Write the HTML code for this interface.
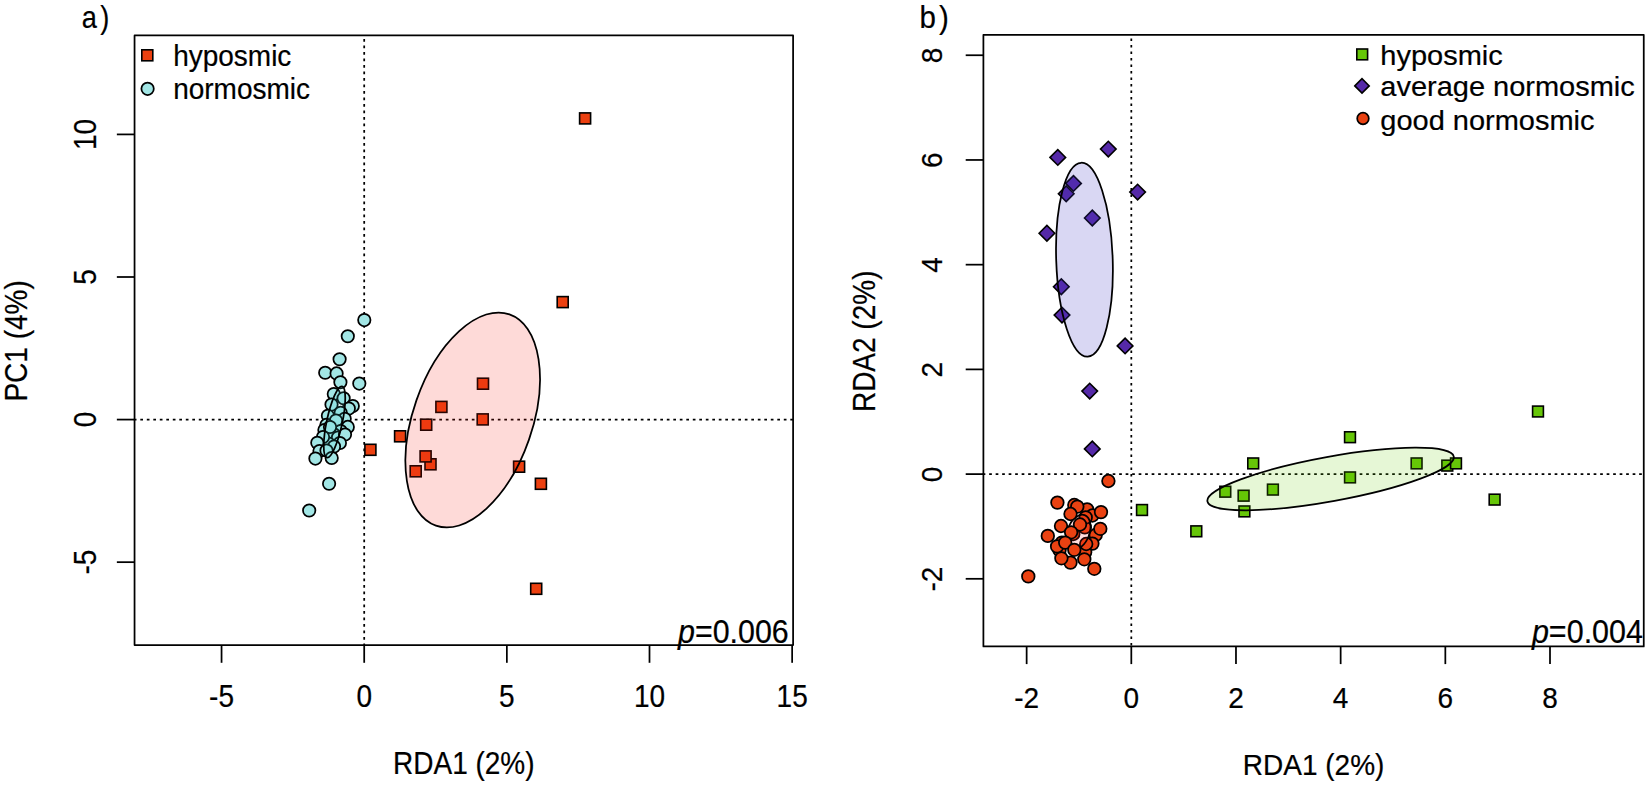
<!DOCTYPE html>
<html lang="en"><head><meta charset="utf-8"><title>RDA ordination plots</title>
<style>
html,body{margin:0;padding:0;background:#fff;}
body{width:1650px;height:787px;overflow:hidden;}
svg{display:block;}
svg text{font-family:"Liberation Sans", Arial, Helvetica, sans-serif;fill:#000;stroke:#000;stroke-width:0.2px;}
</style></head><body>
<svg width="1650" height="787" viewBox="0 0 1650 787">
<rect x="0" y="0" width="1650" height="787" fill="#fff"/>
<g stroke="#000" stroke-width="1.75" fill="none" stroke-linecap="butt" stroke-linejoin="round">
<rect x="134.55" y="35.4" width="658.55" height="609.70" fill="none"/>
<line x1="221.55" y1="645.10" x2="221.55" y2="662.80"/>
<line x1="364.20" y1="645.10" x2="364.20" y2="662.80"/>
<line x1="506.85" y1="645.10" x2="506.85" y2="662.80"/>
<line x1="649.50" y1="645.10" x2="649.50" y2="662.80"/>
<line x1="792.15" y1="645.10" x2="792.15" y2="662.80"/>
<line x1="116.85" y1="562.16" x2="134.55" y2="562.16"/>
<line x1="116.85" y1="419.58" x2="134.55" y2="419.58"/>
<line x1="116.85" y1="277.00" x2="134.55" y2="277.00"/>
<line x1="116.85" y1="134.41" x2="134.55" y2="134.41"/>
<line x1="133.80" y1="419.58" x2="793.10" y2="419.58" stroke-dasharray="2.7 3.8" stroke-dashoffset="0"/>
<line x1="364.20" y1="35.40" x2="364.20" y2="645.10" stroke-dasharray="2.7 3.8" stroke-dashoffset="2.95"/>
</g>
<g stroke="#000">
<circle cx="364.30" cy="320.10" r="6.2" fill="#A2E6E5" stroke-width="1.75"/>
<circle cx="347.80" cy="336.20" r="6.2" fill="#A2E6E5" stroke-width="1.75"/>
<circle cx="339.60" cy="359.30" r="6.2" fill="#A2E6E5" stroke-width="1.75"/>
<circle cx="325.20" cy="372.80" r="6.2" fill="#A2E6E5" stroke-width="1.75"/>
<circle cx="336.60" cy="373.40" r="6.2" fill="#A2E6E5" stroke-width="1.75"/>
<circle cx="340.40" cy="382.30" r="6.2" fill="#A2E6E5" stroke-width="1.75"/>
<circle cx="359.30" cy="383.60" r="6.2" fill="#A2E6E5" stroke-width="1.75"/>
<circle cx="333.80" cy="394.00" r="6.2" fill="#A2E6E5" stroke-width="1.75"/>
<circle cx="343.60" cy="398.20" r="6.2" fill="#A2E6E5" stroke-width="1.75"/>
<circle cx="352.80" cy="406.10" r="6.2" fill="#A2E6E5" stroke-width="1.75"/>
<circle cx="348.80" cy="408.60" r="6.2" fill="#A2E6E5" stroke-width="1.75"/>
<circle cx="331.50" cy="404.60" r="6.2" fill="#A2E6E5" stroke-width="1.75"/>
<circle cx="340.70" cy="412.70" r="6.2" fill="#A2E6E5" stroke-width="1.75"/>
<circle cx="327.90" cy="415.70" r="6.2" fill="#A2E6E5" stroke-width="1.75"/>
<circle cx="344.70" cy="418.80" r="6.2" fill="#A2E6E5" stroke-width="1.75"/>
<circle cx="336.00" cy="420.50" r="6.2" fill="#A2E6E5" stroke-width="1.75"/>
<circle cx="347.80" cy="426.90" r="6.2" fill="#A2E6E5" stroke-width="1.75"/>
<circle cx="340.70" cy="431.00" r="6.2" fill="#A2E6E5" stroke-width="1.75"/>
<circle cx="326.40" cy="424.90" r="6.2" fill="#A2E6E5" stroke-width="1.75"/>
<circle cx="324.40" cy="430.00" r="6.2" fill="#A2E6E5" stroke-width="1.75"/>
<circle cx="333.50" cy="434.00" r="6.2" fill="#A2E6E5" stroke-width="1.75"/>
<circle cx="330.00" cy="427.00" r="6.2" fill="#A2E6E5" stroke-width="1.75"/>
<circle cx="338.00" cy="437.50" r="6.2" fill="#A2E6E5" stroke-width="1.75"/>
<circle cx="345.00" cy="434.50" r="6.2" fill="#A2E6E5" stroke-width="1.75"/>
<circle cx="320.30" cy="442.20" r="6.2" fill="#A2E6E5" stroke-width="1.75"/>
<circle cx="328.50" cy="443.60" r="6.2" fill="#A2E6E5" stroke-width="1.75"/>
<circle cx="339.90" cy="443.00" r="6.2" fill="#A2E6E5" stroke-width="1.75"/>
<circle cx="334.00" cy="446.50" r="6.2" fill="#A2E6E5" stroke-width="1.75"/>
<circle cx="323.00" cy="437.00" r="6.2" fill="#A2E6E5" stroke-width="1.75"/>
<circle cx="317.30" cy="442.70" r="6.2" fill="#A2E6E5" stroke-width="1.75"/>
<circle cx="319.50" cy="451.00" r="6.2" fill="#A2E6E5" stroke-width="1.75"/>
<circle cx="326.50" cy="450.50" r="6.2" fill="#A2E6E5" stroke-width="1.75"/>
<circle cx="315.40" cy="458.60" r="6.2" fill="#A2E6E5" stroke-width="1.75"/>
<circle cx="331.70" cy="458.00" r="6.2" fill="#A2E6E5" stroke-width="1.75"/>
<circle cx="329.10" cy="483.80" r="6.2" fill="#A2E6E5" stroke-width="1.75"/>
<circle cx="309.20" cy="510.50" r="6.2" fill="#A2E6E5" stroke-width="1.75"/>
<rect x="579.60" y="112.90" width="11.0" height="11.0" fill="#EC4010" stroke-width="1.6"/>
<rect x="557.20" y="296.60" width="11.0" height="11.0" fill="#EC4010" stroke-width="1.6"/>
<rect x="477.50" y="378.20" width="11.0" height="11.0" fill="#EC4010" stroke-width="1.6"/>
<rect x="435.90" y="401.40" width="11.0" height="11.0" fill="#EC4010" stroke-width="1.6"/>
<rect x="477.20" y="413.90" width="11.0" height="11.0" fill="#EC4010" stroke-width="1.6"/>
<rect x="420.70" y="419.20" width="11.0" height="11.0" fill="#EC4010" stroke-width="1.6"/>
<rect x="394.60" y="430.80" width="11.0" height="11.0" fill="#EC4010" stroke-width="1.6"/>
<rect x="364.90" y="444.30" width="11.0" height="11.0" fill="#EC4010" stroke-width="1.6"/>
<rect x="425.00" y="458.80" width="11.0" height="11.0" fill="#EC4010" stroke-width="1.6"/>
<rect x="420.10" y="450.90" width="11.0" height="11.0" fill="#EC4010" stroke-width="1.6"/>
<rect x="410.20" y="465.80" width="11.0" height="11.0" fill="#EC4010" stroke-width="1.6"/>
<rect x="513.60" y="461.20" width="11.0" height="11.0" fill="#EC4010" stroke-width="1.6"/>
<rect x="535.40" y="478.30" width="11.0" height="11.0" fill="#EC4010" stroke-width="1.6"/>
<rect x="530.70" y="583.30" width="11.0" height="11.0" fill="#EC4010" stroke-width="1.6"/>
</g>
<g stroke="#000" stroke-width="1.75">
<ellipse cx="334.5" cy="422" rx="36.5" ry="7.8" transform="rotate(-78 334.5 422)" fill="#40D0D0" fill-opacity="0.15"/>
<ellipse cx="472.7" cy="420" rx="111.9" ry="59.6" transform="rotate(-70.8 472.7 420)" fill="#F81C14" fill-opacity="0.165"/>
</g>
<g stroke="#000">
<rect x="141.80" y="49.80" width="11.0" height="11.0" fill="#EC4010" stroke-width="1.6"/>
<circle cx="147.60" cy="88.80" r="6.2" fill="#A2E6E5" stroke-width="1.75"/>
</g>
<text transform="translate(173.15 66.10) scale(1 1.07)" text-anchor="start" font-size="28">hyposmic</text>
<text transform="translate(173.15 98.50) scale(1 1.07)" text-anchor="start" font-size="28">normosmic</text>
<text transform="translate(81.80 27.75) scale(1 1.135)" text-anchor="start" font-size="27.2">a<tspan dx="3.4">)</tspan></text>
<text transform="translate(221.55 706.60) scale(1 1.09)" text-anchor="middle" font-size="28">-5</text>
<text transform="translate(364.20 706.60) scale(1 1.09)" text-anchor="middle" font-size="28">0</text>
<text transform="translate(506.85 706.60) scale(1 1.09)" text-anchor="middle" font-size="28">5</text>
<text transform="translate(649.50 706.60) scale(1 1.09)" text-anchor="middle" font-size="28">10</text>
<text transform="translate(792.15 706.60) scale(1 1.09)" text-anchor="middle" font-size="28">15</text>
<text transform="translate(95.70 562.16) rotate(-90) scale(1 1.12)" text-anchor="middle" font-size="28">-5</text>
<text transform="translate(95.70 419.58) rotate(-90) scale(1 1.12)" text-anchor="middle" font-size="28">0</text>
<text transform="translate(95.70 277.00) rotate(-90) scale(1 1.12)" text-anchor="middle" font-size="28">5</text>
<text transform="translate(95.70 134.41) rotate(-90) scale(1 1.12)" text-anchor="middle" font-size="28">10</text>
<text transform="translate(463.80 773.80) scale(1 1.12)" text-anchor="middle" font-size="28">RDA1 (2%)</text>
<text transform="translate(26.90 340.90) rotate(-90) scale(1 1.115)" text-anchor="middle" font-size="28">PC1 (4%)</text>
<text transform="translate(788.70 643.00) scale(1 1.075)" text-anchor="end" font-size="30.4"><tspan font-style="italic">p</tspan>=0.006</text>
<g stroke="#000" stroke-width="1.75" fill="none" stroke-linecap="butt" stroke-linejoin="round">
<rect x="983.4" y="34.85" width="660.35" height="611.55" fill="none"/>
<line x1="1026.64" y1="646.40" x2="1026.64" y2="664.10"/>
<line x1="1131.31" y1="646.40" x2="1131.31" y2="664.10"/>
<line x1="1235.98" y1="646.40" x2="1235.98" y2="664.10"/>
<line x1="1340.65" y1="646.40" x2="1340.65" y2="664.10"/>
<line x1="1445.33" y1="646.40" x2="1445.33" y2="664.10"/>
<line x1="1550.00" y1="646.40" x2="1550.00" y2="664.10"/>
<line x1="965.70" y1="578.81" x2="983.40" y2="578.81"/>
<line x1="965.70" y1="474.10" x2="983.40" y2="474.10"/>
<line x1="965.70" y1="369.39" x2="983.40" y2="369.39"/>
<line x1="965.70" y1="264.67" x2="983.40" y2="264.67"/>
<line x1="965.70" y1="159.96" x2="983.40" y2="159.96"/>
<line x1="965.70" y1="55.24" x2="983.40" y2="55.24"/>
<line x1="982.65" y1="474.10" x2="1643.75" y2="474.10" stroke-dasharray="2.7 3.8" stroke-dashoffset="0"/>
<line x1="1131.31" y1="34.85" x2="1131.31" y2="646.40" stroke-dasharray="2.7 3.8" stroke-dashoffset="2.95"/>
</g>
<g stroke="#000">
<circle cx="1108.40" cy="481.00" r="6.3" fill="#EA4212" stroke-width="1.75"/>
<circle cx="1028.30" cy="576.40" r="6.3" fill="#EA4212" stroke-width="1.75"/>
<circle cx="1047.80" cy="535.90" r="6.3" fill="#EA4212" stroke-width="1.75"/>
<circle cx="1074.30" cy="505.00" r="6.3" fill="#EA4212" stroke-width="1.75"/>
<circle cx="1087.10" cy="509.30" r="6.3" fill="#EA4212" stroke-width="1.75"/>
<circle cx="1084.80" cy="527.40" r="6.3" fill="#EA4212" stroke-width="1.75"/>
<circle cx="1073.30" cy="534.00" r="6.3" fill="#EA4212" stroke-width="1.75"/>
<circle cx="1095.70" cy="535.00" r="6.3" fill="#EA4212" stroke-width="1.75"/>
<circle cx="1061.90" cy="542.60" r="6.3" fill="#EA4212" stroke-width="1.75"/>
<circle cx="1092.40" cy="543.60" r="6.3" fill="#EA4212" stroke-width="1.75"/>
<circle cx="1085.20" cy="552.10" r="6.3" fill="#EA4212" stroke-width="1.75"/>
<circle cx="1059.50" cy="550.20" r="6.3" fill="#EA4212" stroke-width="1.75"/>
<circle cx="1057.10" cy="546.40" r="6.3" fill="#EA4212" stroke-width="1.75"/>
<circle cx="1070.50" cy="562.60" r="6.3" fill="#EA4212" stroke-width="1.75"/>
<circle cx="1092.40" cy="515.50" r="6.3" fill="#EA4212" stroke-width="1.75"/>
<circle cx="1086.20" cy="544.00" r="6.3" fill="#EA4212" stroke-width="1.75"/>
<circle cx="1085.70" cy="517.40" r="6.3" fill="#EA4212" stroke-width="1.75"/>
<circle cx="1101.00" cy="512.10" r="6.3" fill="#EA4212" stroke-width="1.75"/>
<circle cx="1100.30" cy="528.80" r="6.3" fill="#EA4212" stroke-width="1.75"/>
<ellipse cx="1078.5" cy="532" rx="11" ry="18" transform="rotate(20 1078.5 532)" fill="#FF2020" fill-opacity="0.15" stroke-width="1.75"/>
<circle cx="1057.40" cy="502.60" r="6.3" fill="#EA4212" stroke-width="1.75"/>
<circle cx="1077.30" cy="506.60" r="6.3" fill="#EA4212" stroke-width="1.75"/>
<circle cx="1070.50" cy="514.00" r="6.3" fill="#EA4212" stroke-width="1.75"/>
<circle cx="1061.00" cy="526.00" r="6.3" fill="#EA4212" stroke-width="1.75"/>
<circle cx="1080.00" cy="524.50" r="6.3" fill="#EA4212" stroke-width="1.75"/>
<circle cx="1071.10" cy="532.30" r="6.3" fill="#EA4212" stroke-width="1.75"/>
<circle cx="1065.20" cy="542.60" r="6.3" fill="#EA4212" stroke-width="1.75"/>
<circle cx="1074.30" cy="549.80" r="6.3" fill="#EA4212" stroke-width="1.75"/>
<circle cx="1061.40" cy="558.30" r="6.3" fill="#EA4212" stroke-width="1.75"/>
<circle cx="1084.30" cy="559.30" r="6.3" fill="#EA4212" stroke-width="1.75"/>
<circle cx="1094.30" cy="568.80" r="6.3" fill="#EA4212" stroke-width="1.75"/>
<path d="M1050.00 157.40L1057.80 149.60L1065.60 157.40L1057.80 165.20Z" fill="#5529A8" stroke-width="1.6"/>
<path d="M1100.50 149.10L1108.30 141.30L1116.10 149.10L1108.30 156.90Z" fill="#5529A8" stroke-width="1.6"/>
<path d="M1065.70 183.40L1073.50 175.60L1081.30 183.40L1073.50 191.20Z" fill="#5529A8" stroke-width="1.6"/>
<path d="M1058.40 193.70L1066.20 185.90L1074.00 193.70L1066.20 201.50Z" fill="#5529A8" stroke-width="1.6"/>
<path d="M1129.80 192.10L1137.60 184.30L1145.40 192.10L1137.60 199.90Z" fill="#5529A8" stroke-width="1.6"/>
<path d="M1084.50 218.00L1092.30 210.20L1100.10 218.00L1092.30 225.80Z" fill="#5529A8" stroke-width="1.6"/>
<path d="M1039.10 233.20L1046.90 225.40L1054.70 233.20L1046.90 241.00Z" fill="#5529A8" stroke-width="1.6"/>
<path d="M1053.50 286.70L1061.30 278.90L1069.10 286.70L1061.30 294.50Z" fill="#5529A8" stroke-width="1.6"/>
<path d="M1054.20 315.10L1062.00 307.30L1069.80 315.10L1062.00 322.90Z" fill="#5529A8" stroke-width="1.6"/>
<path d="M1117.30 345.90L1125.10 338.10L1132.90 345.90L1125.10 353.70Z" fill="#5529A8" stroke-width="1.6"/>
<path d="M1081.90 391.10L1089.70 383.30L1097.50 391.10L1089.70 398.90Z" fill="#5529A8" stroke-width="1.6"/>
<path d="M1084.50 448.90L1092.30 441.10L1100.10 448.90L1092.30 456.70Z" fill="#5529A8" stroke-width="1.6"/>
<rect x="1136.60" y="504.60" width="10.8" height="10.8" fill="#66C608" stroke-width="1.6"/>
<rect x="1190.90" y="525.90" width="10.8" height="10.8" fill="#66C608" stroke-width="1.6"/>
<rect x="1219.90" y="486.30" width="10.8" height="10.8" fill="#66C608" stroke-width="1.6"/>
<rect x="1238.20" y="490.30" width="10.8" height="10.8" fill="#66C608" stroke-width="1.6"/>
<rect x="1239.00" y="506.00" width="10.8" height="10.8" fill="#66C608" stroke-width="1.6"/>
<rect x="1247.80" y="458.00" width="10.8" height="10.8" fill="#66C608" stroke-width="1.6"/>
<rect x="1267.50" y="484.20" width="10.8" height="10.8" fill="#66C608" stroke-width="1.6"/>
<rect x="1344.60" y="431.80" width="10.8" height="10.8" fill="#66C608" stroke-width="1.6"/>
<rect x="1344.60" y="472.00" width="10.8" height="10.8" fill="#66C608" stroke-width="1.6"/>
<rect x="1411.20" y="458.00" width="10.8" height="10.8" fill="#66C608" stroke-width="1.6"/>
<rect x="1441.90" y="460.20" width="10.8" height="10.8" fill="#66C608" stroke-width="1.6"/>
<rect x="1450.60" y="458.00" width="10.8" height="10.8" fill="#66C608" stroke-width="1.6"/>
<rect x="1489.20" y="494.20" width="10.8" height="10.8" fill="#66C608" stroke-width="1.6"/>
<rect x="1532.60" y="406.10" width="10.8" height="10.8" fill="#66C608" stroke-width="1.6"/>
</g>
<g stroke="#000" stroke-width="1.75">
<ellipse cx="1084.45" cy="259.7" rx="28.25" ry="97.0" transform="rotate(-1.9 1084.45 259.7)" fill="#4137C3" fill-opacity="0.2"/>
<ellipse cx="1330.6" cy="479" rx="125.2" ry="22.2" transform="rotate(-10.3 1330.6 479)" fill="#66CD00" fill-opacity="0.16"/>
</g>
<g stroke="#000">
<rect x="1356.80" y="49.00" width="10.8" height="10.8" fill="#66C608" stroke-width="1.6"/>
<path d="M1354.80 85.90L1362.00 78.70L1369.20 85.90L1362.00 93.10Z" fill="#5529A8" stroke-width="1.6"/>
<circle cx="1363.00" cy="118.50" r="5.8" fill="#EA4212" stroke-width="1.75"/>
</g>
<text transform="translate(1380.30 64.60) scale(1 0.95)" text-anchor="start" font-size="29">hyposmic</text>
<text transform="translate(1380.30 96.00) scale(1 0.95)" text-anchor="start" font-size="29">average normosmic</text>
<text transform="translate(1380.30 130.00) scale(1 0.95)" text-anchor="start" font-size="29">good normosmic</text>
<text transform="translate(919.55 27.75) scale(1 1.054)" text-anchor="start" font-size="29.5">b<tspan dx="3.15">)</tspan></text>
<text transform="translate(1026.64 707.80) scale(1 1.08)" text-anchor="middle" font-size="28">-2</text>
<text transform="translate(1131.31 707.80) scale(1 1.08)" text-anchor="middle" font-size="28">0</text>
<text transform="translate(1235.98 707.80) scale(1 1.08)" text-anchor="middle" font-size="28">2</text>
<text transform="translate(1340.65 707.80) scale(1 1.08)" text-anchor="middle" font-size="28">4</text>
<text transform="translate(1445.33 707.80) scale(1 1.08)" text-anchor="middle" font-size="28">6</text>
<text transform="translate(1550.00 707.80) scale(1 1.08)" text-anchor="middle" font-size="28">8</text>
<text transform="translate(942.10 579.11) rotate(-90) scale(1 1.07)" text-anchor="middle" font-size="28">-2</text>
<text transform="translate(942.10 474.40) rotate(-90) scale(1 1.07)" text-anchor="middle" font-size="28">0</text>
<text transform="translate(942.10 369.69) rotate(-90) scale(1 1.07)" text-anchor="middle" font-size="28">2</text>
<text transform="translate(942.10 264.97) rotate(-90) scale(1 1.07)" text-anchor="middle" font-size="28">4</text>
<text transform="translate(942.10 160.26) rotate(-90) scale(1 1.07)" text-anchor="middle" font-size="28">6</text>
<text transform="translate(942.10 55.54) rotate(-90) scale(1 1.07)" text-anchor="middle" font-size="28">8</text>
<text transform="translate(1313.60 774.80) scale(1 1.08)" text-anchor="middle" font-size="28">RDA1 (2%)</text>
<text transform="translate(874.50 341.30) rotate(-90) scale(1 1.1)" text-anchor="middle" font-size="28">RDA2 (2%)</text>
<text transform="translate(1643.00 643.00) scale(1 1.075)" text-anchor="end" font-size="30.5"><tspan font-style="italic">p</tspan>=0.004</text>
</svg>
</body></html>
